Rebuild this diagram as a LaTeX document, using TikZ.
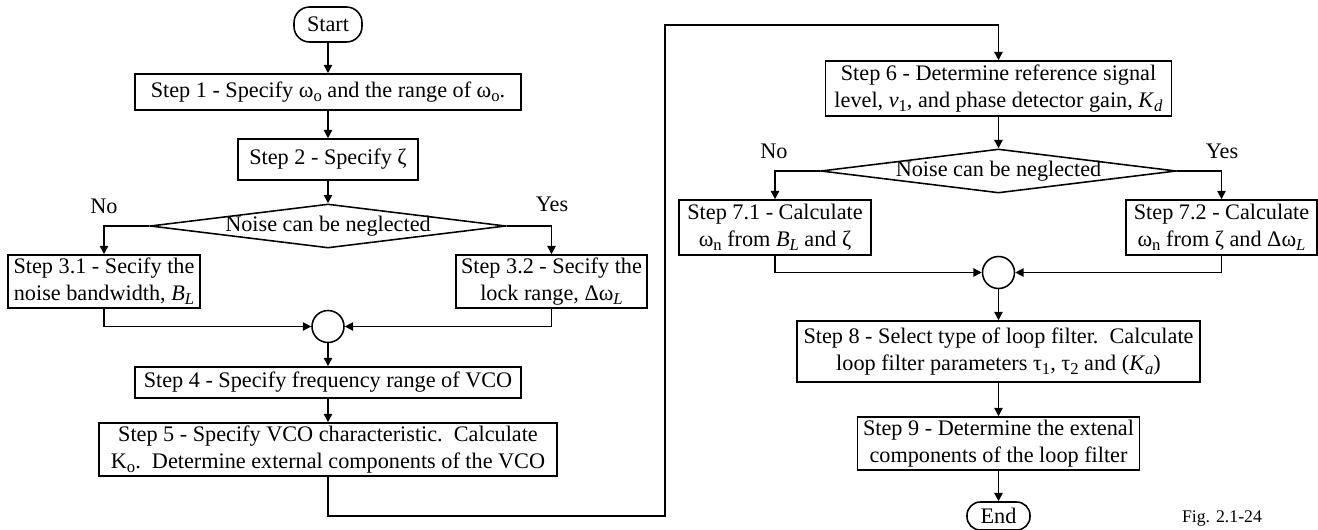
\documentclass[tikz,border=0pt]{standalone}
\usepackage{fontspec}
\setmainfont{Liberation Serif}
\usepackage{tikz}
\usetikzlibrary{arrows.meta,shapes.geometric}

\newcommand{\sbs}[1]{\raisebox{-0.4ex}{\fontsize{7.5}{9}\selectfont #1}}
\newcommand{\isub}[2]{\textit{#1}\sbs{\textit{#2}}}

\begin{document}
\begin{tikzpicture}[
  x=0.45pt, y=-0.45pt,
  font=\fontsize{10}{12.15}\selectfont,
  line width=0.7pt,
  blk/.style={draw, align=center, inner sep=1pt},
  term/.style={draw, rounded corners=6pt, inner sep=1pt},
  dec/.style={draw, diamond, aspect=10, inner xsep=0pt, inner ysep=-1.5pt, minimum width=160pt, minimum height=19.8pt},
  junc/.style={draw, circle, minimum size=14.4pt, inner sep=0pt},
  lbl/.style={inner sep=0pt},
  arr/.style={-{Triangle[length=3.8pt, width=3.8pt]}}]
\useasboundingbox (0,0) rectangle (1318,529);
% ---------------- first column ----------------
\node[term, minimum width=30.6pt, minimum height=15.75pt, rounded corners=7pt] (start) at (328,24.5) {Start};
\node[blk, minimum width=173.7pt, minimum height=16.2pt] (s1) at (328,92) {Step 1 - Specify ω\sbs{o} and the range of ω\sbs{o}.};
\node[blk, minimum width=81pt, minimum height=18.45pt] (s2) at (328,159.5) {Step 2 - Specify ζ};
\node[dec] (d1) at (328,226) {Noise can be neglected};
\node[lbl] (no1) at (104,206) {No};
\node[lbl] (yes1) at (552,204) {Yes};
\node[blk, minimum width=86.4pt, minimum height=23.85pt] (s31) at (104,281.5) {Step 3.1 - Secify the\\noise bandwidth, \isub{B}{L}};
\node[blk, minimum width=86pt, minimum height=23.85pt] (s32) at (551.5,281.5) {Step 3.2 - Secify the\\lock range, Δω\sbs{\textit{L}}};
\node[junc] (c1) at (328,326.5) {};
\node[blk, minimum width=173.7pt, minimum height=13.95pt] (s4) at (328,382.5) {Step 4 - Specify frequency range of VCO};
\node[blk, minimum width=206.1pt, minimum height=23.85pt] (s5) at (328,449.5) {Step 5 - Specify VCO characteristic.\ \ Calculate\\K\sbs{o}.\ \ Determine external components of the VCO};
\draw[arr] (start) -- (s1);
\draw[arr] (s1) -- (s2);
\draw[arr] (s2) -- (d1);
\draw[arr] (d1.west) -| (s31.north);
\draw[arr] (d1.east) -| (s32.north);
\draw[arr] (s31.south) |- (c1.west);
\draw[arr] (s32.south) |- (c1.east);
\draw[arr] (c1) -- (s4);
\draw[arr] (s4) -- (s5);
% ---------------- second column ----------------
\node[blk, minimum width=155.7pt, minimum height=24.75pt] (s6) at (998.5,88.5) {Step 6 - Determine reference signal\\level, \textit{v}\sbs{1}, and phase detector gain, \isub{K}{d}};
\node[dec] (d2) at (998.5,171) {Noise can be neglected};
\node[lbl] (no2) at (774,151) {No};
\node[lbl] (yes2) at (1222,151) {Yes};
\node[blk, minimum width=86.4pt, minimum height=24.75pt] (s71) at (775,227.5) {Step 7.1 - Calculate\\ω\sbs{n} from \isub{B}{L} and ζ};
\node[blk, minimum width=86pt, minimum height=24.75pt] (s72) at (1221.5,227.5) {Step 7.2 - Calculate\\ω\sbs{n} from ζ and Δω\sbs{\textit{L}}};
\node[junc] (c2) at (998.5,272.5) {};
\node[blk, minimum width=181.35pt, minimum height=27.45pt] (s8) at (998.5,351.5) {Step 8 - Select type of loop filter.\ \ Calculate\\loop filter parameters τ\sbs{1}, τ\sbs{2} and (\isub{K}{a})};
\node[blk, minimum width=126.9pt, minimum height=23.85pt] (s9) at (998.5,443.5) {Step 9 - Determine the extenal\\components of the loop filter};
\node[term, minimum width=28.35pt, minimum height=12.6pt] (end) at (998.5,516) {End};
\node[lbl, font=\fontsize{8}{9.6}\selectfont] (fig) at (1222,519) {Fig. 2.1-24};
\draw[arr] (s6) -- (d2);
\draw[arr] (d2.west) -| (s71.north);
\draw[arr] (d2.east) -| (s72.north);
\draw[arr] (s71.south) |- (c2.west);
\draw[arr] (s72.south) |- (c2.east);
\draw[arr] (c2) -- (s8);
\draw[arr] (s8) -- (s9);
\draw[arr] (s9) -- (end);
% ---------------- link between the columns ----------------
\coordinate (lpa) at (665,516);
\coordinate (lpb) at (665,25);
\draw[arr] (s5.south) |- (lpa) -- (lpb) -| (s6.north);
\end{tikzpicture}
\end{document}
